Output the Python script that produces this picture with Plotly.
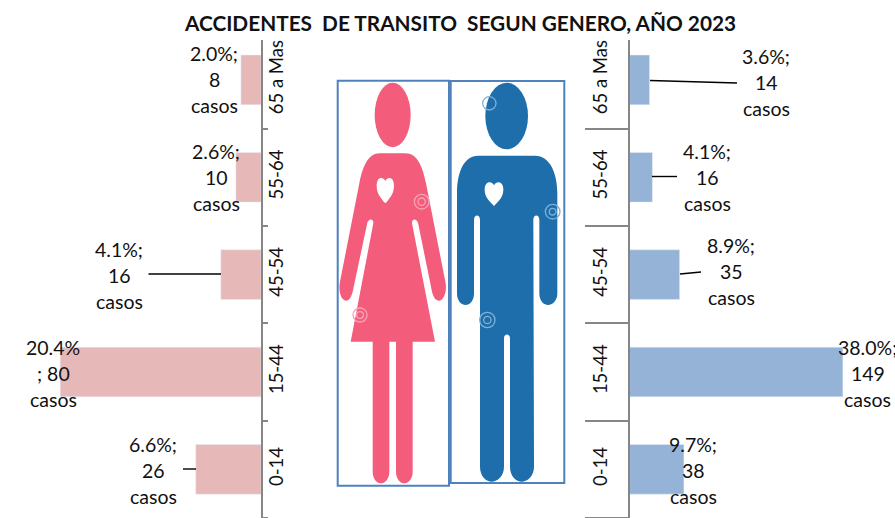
import plotly.graph_objects as go

# ---------- data ----------
categories = ["0-14", "15-44", "45-54", "55-64", "65 a Mas"]
mujeres_casos = [26, 80, 16, 10, 8]
hombres_casos = [38, 149, 35, 16, 14]
mujeres_labels = [["6.6%;", "26", "casos"], ["20.4%", ";\u00a080", "casos"], ["4.1%;", "16", "casos"],
                  ["2.6%;", "10", "casos"], ["2.0%;", "8", "casos"]]
hombres_labels = [["9.7%;", "38", "casos"], ["38.0%;", "149", "casos"], ["8.9%;", "35", "casos"],
                  ["4.1%;", "16", "casos"], ["3.6%;", "14", "casos"]]
title_text = "ACCIDENTES\u00a0\u00a0DE TRANSITO\u00a0\u00a0SEGUN GENERO, AÑO 2023"

# ---------- layout constants ----------
W, H = 895, 518
FONT = "Lato, Carlito, Calibri, sans-serif"
GREY = "#868686"
PINK_BAR, BLUE_BAR = "#E6B8B7", "#95B3D7"
PINK, BLUE = "#F45C7B", "#1F6EAC"
BOX = "#4F81BD"

# label centres (px): x, y of middle line, per category
left_label_pos = [(153, 470.5), (53, 373.5), (119, 275.5), (216, 177.5), (214, 79.5)]
right_label_pos = [(693, 470.5), (867.5, 373.5), (731, 271.5), (707, 177.5), (766, 82.5)]
LINE_STEP = 26.3


def px(x):
    return x / W


def py(y):
    return 1 - y / H


fig = go.Figure()
fig.add_bar(y=categories, x=mujeres_casos, orientation="h", marker_color=PINK_BAR,
            xaxis="x", yaxis="y", showlegend=False)
fig.add_bar(y=categories, x=hombres_casos, orientation="h", marker_color=BLUE_BAR,
            xaxis="x2", yaxis="y2", showlegend=False)

annotations = []
for labels, positions in ((mujeres_labels, left_label_pos), (hombres_labels, right_label_pos)):
    for lines, (cx, cy) in zip(labels, positions):
        for i, t in enumerate(lines):
            annotations.append(dict(text=t, xref="paper", yref="paper", x=px(cx), y=py(cy + (i - 1) * LINE_STEP),
                                    xanchor="center", yanchor="middle", showarrow=False,
                                    font=dict(family=FONT, size=19.5, color="#111111")))

shapes = []


# leader lines
def leader(x0, y0, x1, y1):
    shapes.append(dict(type="line", xref="paper", yref="paper", x0=px(x0), y0=py(y0), x1=px(x1), y1=py(y1),
                       line=dict(color="#000000", width=1.4), layer="above"))


leader(148.5, 274, 221, 274)
leader(183, 469, 196, 469)
leader(650, 80.5, 737, 83)
leader(652, 176.5, 677, 176.5)
leader(680, 274, 701, 272)


# pictograms: drawn in a local frame measured in 1/3 px from (330, 70)
def zx(v):
    return px(330 + v / 3)


def zy(v):
    return py(70 + v / 3)


def path(cmds):
    out = []
    for c in cmds:
        if c == "Z":
            out.append("Z")
            continue
        op, vals = c[0], c[1:]
        coords = " ".join(
            f"{zx(vals[i]):.5f},{zy(vals[i + 1]):.5f}" for i in range(0, len(vals), 2))
        out.append(f"{op}{coords}")
    return " ".join(out)


def filled(cmds, color):
    shapes.append(dict(type="path", xref="paper", yref="paper", path=path(cmds), fillcolor=color,
                       line=dict(width=0), layer="below"))


def ellipse(cx, cy, rx, ry, color):
    shapes.append(dict(type="circle", xref="paper", yref="paper", x0=zx(cx - rx), x1=zx(cx + rx),
                       y0=zy(cy + ry), y1=zy(cy - ry), fillcolor=color, line=dict(width=0), layer="below"))


def ring(cx, cy, r, color):
    shapes.append(dict(type="circle", xref="paper", yref="paper", x0=zx(cx - r), x1=zx(cx + r),
                       y0=zy(cy + r), y1=zy(cy - r), fillcolor="rgba(0,0,0,0)",
                       line=dict(color=color, width=1.3), layer="below"))


def heart(cx, top, hw, bottom):
    mid = top + 0.32 * (bottom - top)
    filled([
        ("M", cx, top + 10),
        ("C", cx - 6, top - 3, cx - hw, top - 5, cx - hw, mid),
        ("C", cx - hw, mid + 25, cx - 10, bottom - 12, cx, bottom),
        ("C", cx + 10, bottom - 12, cx + hw, mid + 25, cx + hw, mid),
        ("C", cx + hw, top - 5, cx + 6, top - 3, cx, top + 10),
        "Z"], "#FFFFFF")


# woman
ellipse(188, 135, 54, 97, PINK)
filled([
    ("M", 150, 250), ("L", 226, 250),
    ("C", 262, 250, 278, 290, 288, 340),
    ("L", 347, 640),
    ("C", 352, 675, 335, 692, 328, 692),
    ("C", 316, 692, 310, 680, 306, 665),
    ("L", 264, 458),
    ("C", 261, 446, 245, 443, 246, 460),
    ("L", 315, 815),
    ("L", 248, 815), ("L", 248, 1205),
    ("C", 248, 1230, 232, 1240, 223, 1240),
    ("C", 212, 1240, 198, 1228, 198, 1205),
    ("L", 198, 815), ("L", 178, 815), ("L", 178, 1205),
    ("C", 178, 1230, 162, 1240, 153, 1240),
    ("C", 142, 1240, 128, 1228, 128, 1205),
    ("L", 128, 815), ("L", 62, 815),
    ("L", 130, 460),
    ("C", 131, 443, 115, 446, 112, 458),
    ("L", 68, 665),
    ("C", 64, 680, 58, 692, 48, 692),
    ("C", 38, 692, 25, 675, 29, 640),
    ("L", 88, 340),
    ("C", 98, 290, 114, 250, 150, 250),
    "Z"], PINK)
heart(166, 323, 26, 400)
ring(275, 395, 22, "#F9A3B4")
ring(275, 395, 11, "#F9A3B4")
ring(90, 735, 21, "#F9A3B4")
ring(90, 735, 10, "#F9A3B4")

# man
ellipse(530, 138, 64, 100, BLUE)
filled([
    ("M", 445, 257), ("L", 615, 257),
    ("C", 660, 257, 682, 310, 682, 370),
    ("L", 682, 670),
    ("C", 682, 695, 665, 705, 655, 705),
    ("C", 642, 705, 628, 695, 628, 670),
    ("L", 628, 450),
    ("C", 628, 432, 610, 432, 610, 450),
    ("L", 612, 1190),
    ("C", 612, 1220, 590, 1235, 575, 1235),
    ("C", 560, 1235, 540, 1220, 540, 1190),
    ("L", 540, 805),
    ("C", 540, 790, 522, 790, 522, 805),
    ("L", 522, 1190),
    ("C", 522, 1220, 500, 1235, 485, 1235),
    ("C", 470, 1235, 450, 1220, 450, 1190),
    ("L", 450, 450),
    ("C", 450, 432, 432, 432, 432, 450),
    ("L", 432, 670),
    ("C", 432, 695, 418, 705, 407, 705),
    ("C", 395, 705, 381, 695, 381, 670),
    ("L", 381, 370),
    ("C", 381, 310, 400, 257, 445, 257),
    "Z"], BLUE)
heart(492, 336, 28, 408)
ring(668, 425, 22, "#7FB0D6")
ring(668, 425, 10, "#7FB0D6")
ring(472, 750, 23, "#7FB0D6")
ring(472, 750, 11, "#7FB0D6")
ring(478, 100, 20, "#7FB0D6")

# frames
shapes.append(dict(type="rect", xref="paper", yref="paper", x0=px(337.7), x1=px(449), y0=py(485.7), y1=py(80.7),
                   line=dict(color=BOX, width=2), fillcolor="rgba(0,0,0,0)", layer="above"))
shapes.append(dict(type="rect", xref="paper", yref="paper", x0=px(450.7), x1=px(564.3), y0=py(483), y1=py(81),
                   line=dict(color=BOX, width=2), fillcolor="rgba(0,0,0,0)", layer="above"))

annotations.append(dict(text=f"<b>{title_text}</b>", xref="paper", yref="paper", x=px(460), y=py(22),
                        xanchor="center", yanchor="middle", showarrow=False,
                        font=dict(family=FONT, size=20.8, color="#111111")))

y_common = dict(type="category", categoryorder="array", categoryarray=categories, range=[-0.5, 4.41],
                domain=[0, py(40)], showline=True, linecolor=GREY, linewidth=2, showgrid=False, zeroline=False,
                ticks="outside", tickson="boundaries", tickcolor=GREY, tickwidth=2, tickangle=-90,
                tickfont=dict(family=FONT, size=18.5, color="#111111"), automargin=False)

fig.update_layout(
    width=W, height=H, margin=dict(l=0, r=0, t=0, b=0), autosize=False,
    paper_bgcolor="white", plot_bgcolor="rgba(0,0,0,0)", bargap=0.49, showlegend=False,
    xaxis=dict(domain=[0, px(261)], range=[104, 0], visible=False),
    xaxis2=dict(domain=[px(629.5), 1], range=[0, 185.4], visible=False),
    yaxis=dict(anchor="x", side="right", ticklen=5, ticklabelstandoff=-2, **y_common),
    yaxis2=dict(anchor="x2", side="left", ticklen=43, ticklabelstandoff=13, **y_common),
    annotations=annotations, shapes=shapes,
)

fig.write_html("out.html", config={"displayModeBar": False},
               post_script="document.body.style.margin='0';document.documentElement.style.overflow='hidden';")
